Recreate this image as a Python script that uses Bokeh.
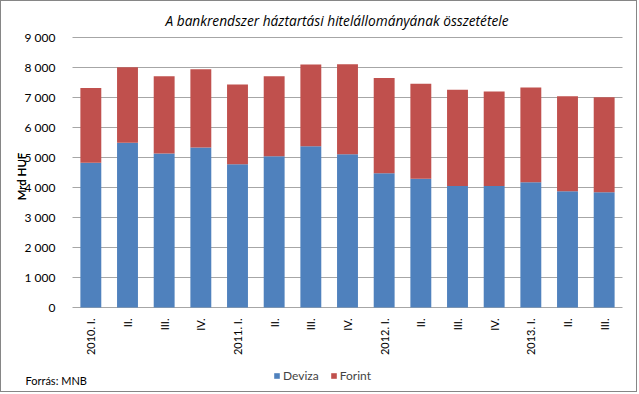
import math
from bokeh.plotting import figure
from bokeh.models import ColumnDataSource, Legend, LegendItem, Range1d
from bokeh.core.properties import value
from bokeh.embed import file_html
from bokeh.resources import INLINE

categories = ["2010. I.", "II.", "III.", "IV.", "2011. I.", "II.", "III.", "IV.",
              "2012. I.", "II.", "III.", "IV.", "2013. I.", "II.", "III."]
totals = [7320, 8010, 7710, 7940, 7430, 7710, 8100, 8110, 7650, 7460, 7260, 7200, 7330, 7040, 7010]
deviza = [4825, 5490, 5135, 5335, 4775, 5045, 5375, 5110, 4475, 4290, 4050, 4050, 4175, 3875, 3845]
forint = [t - d for t, d in zip(totals, deviza)]
y_ticks = [0, 1000, 2000, 3000, 4000, 5000, 6000, 7000, 8000, 9000]
y_tick_labels = ["0", "1 000", "2 000", "3 000", "4 000", "5 000", "6 000", "7 000", "8 000", "9 000"]
series = ["Deviza", "Forint"]
colors = ["#4F81BD", "#C0504D"]
y_title = "Mrd HUF"
source_text = "Forrás: MNB"
chart_title = "A bankrendszer háztartási hitelállományának összetétele"

FONT = "Lato"

# ---- layout (pixels inside the figure) ----
W, H = 637, 392
TOP = 30
PLOT_L, PLOT_R = 71, 621
PLOT_T, PLOT_B = 36, 306
n = len(categories)
y_max = 9000
px_cat = (PLOT_R - PLOT_L) / n
px_val = (PLOT_B - PLOT_T) / y_max
x_start = -0.5 - PLOT_L / px_cat
x_end = n - 0.5 + (W - PLOT_R) / px_cat
y_end = y_max + (PLOT_T - TOP) / px_val
y_start = -(H - PLOT_B) / px_val

p = figure(width=W, height=H, output_backend="svg", toolbar_location=None,
           x_range=Range1d(x_start, x_end), y_range=Range1d(y_start, y_end),
           x_axis_location=None, y_axis_location=None,
           min_border_left=0, min_border_right=0, min_border_top=TOP, min_border_bottom=0)
p.grid.visible = False
p.outline_line_color = None
p.background_fill_color = "white"
p.border_fill_color = "white"
p.styles = {"border": "1px solid #868686"}

p.title.text = chart_title
p.title.align = "left"
p.title.offset = 164
p.title.text_font = "Open Sans"
p.title.text_font_style = "italic"
p.title.text_font_size = "13.7px"
p.title.text_color = "#000000"
p.title.standoff = 3

p.segment(x0=[-0.5] * len(y_ticks), x1=[n - 0.5] * len(y_ticks), y0=y_ticks, y1=y_ticks,
          line_color="#A6A6A6", line_width=1)

source = ColumnDataSource(dict(x=list(range(n)), Deviza=deviza, Forint=forint))
renderers = p.vbar_stack(series, x="x", width=0.57, color=colors, line_color=None, source=source)

p.text(x=[-0.5] * len(y_ticks), y=y_ticks, text=y_tick_labels, x_offset=-17,
       text_align="right", text_baseline="middle", text_font=value(FONT),
       text_font_size="12px", text_color="#000000")

label_y = -11 / px_val
p.text(x=list(range(n)), y=[label_y] * n, text=categories, angle=math.pi / 2,
       text_align="right", text_baseline="middle", text_font=value(FONT),
       text_font_size="11px", text_color="#000000")

# value-axis title: rotated, drawn as two slightly shifted copies for a bold look
title_x = -0.5 - 51 / px_cat
title_mid = (PLOT_B - 175) / px_val
for dx in (0.0, 0.45):
    p.text(x=[title_x + dx / px_cat], y=[title_mid], text=[y_title], angle=math.pi / 2,
           text_align="center", text_baseline="middle", text_font=value(FONT),
           text_font_size="11.5px", text_color="#000000")

p.text(x=[-0.5], y=[0], text=[source_text], x_offset=-47, y_offset=73,
       text_align="left", text_baseline="middle", text_font=value(FONT),
       text_font_size="11px", text_color="#000000")

legend = Legend(items=[LegendItem(label=s, renderers=[r]) for s, r in zip(series, renderers)],
                orientation="horizontal", location=(272, 10),
                label_text_font=FONT, label_text_font_size="12px",
                glyph_width=7, glyph_height=7, spacing=11, label_standoff=3,
                background_fill_alpha=0, border_line_color=None, padding=0, margin=0)
p.add_layout(legend, "center")

open("out.html", "w").write(file_html(p, INLINE))
